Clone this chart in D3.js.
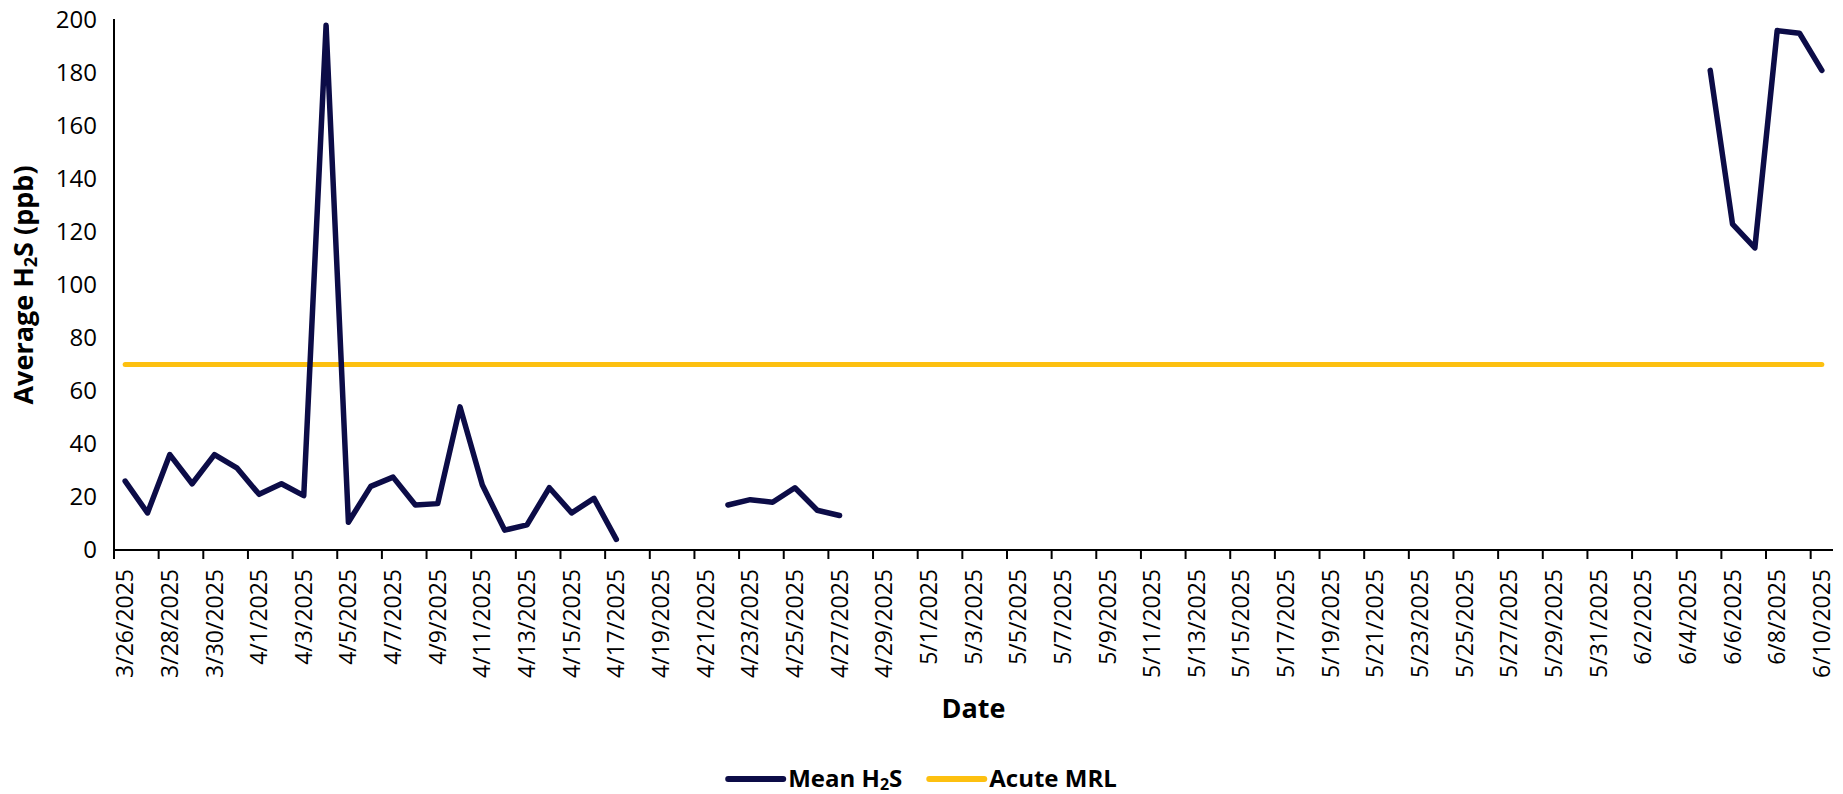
<!DOCTYPE html>
<html>
<head>
<meta charset="utf-8">
<script src="https://cdn.jsdelivr.net/npm/d3@7"></script>
<style>
  html, body { margin: 0; padding: 0; background: #fff; }
  svg { display: block; font-family: "Open Sans", "Noto Sans", sans-serif; }
</style>
</head>
<body>
<svg id="chart" width="1843" height="794"></svg>
<script>
// ---- Data ----
const firstDay = "2025-03-26";
const lastDay = "2025-06-10";
const meanDates = [
  "2025-03-26","2025-03-27","2025-03-28","2025-03-29","2025-03-30","2025-03-31",
  "2025-04-01","2025-04-02","2025-04-03","2025-04-04","2025-04-05","2025-04-06",
  "2025-04-07","2025-04-08","2025-04-09","2025-04-10","2025-04-11","2025-04-12",
  "2025-04-13","2025-04-14","2025-04-15","2025-04-16","2025-04-17",
  "2025-04-22","2025-04-23","2025-04-24","2025-04-25","2025-04-26","2025-04-27",
  "2025-06-05","2025-06-06","2025-06-07","2025-06-08","2025-06-09","2025-06-10"
];
const meanValues = [
  26, 14, 36, 25, 36, 31,
  21, 25, 20.5, 198, 10.5, 24,
  27.5, 17, 17.5, 54, 24.5, 7.5,
  9.5, 23.5, 14, 19.5, 4,
  17, 19, 18, 23.5, 15, 13,
  181, 123, 114, 196, 195, 181
];
const acuteMRL = 70;
const yTicks = [0, 20, 40, 60, 80, 100, 120, 140, 160, 180, 200];
const labelEvery = 2;

(function () {
// ---- Layout ----
const svg = d3.select("#chart");
const mLeft = 114, mRight = 1833, mTop = 20, mBottom = 550;
const navy = "#0C0C47", gold = "#FDC010";

const parse = d3.timeParse("%Y-%m-%d");
const fmt = d3.timeFormat("%-m/%-d/%Y");
const days = d3.timeDay.range(parse(firstDay), d3.timeDay.offset(parse(lastDay), 1)).map(fmt);

const x = d3.scaleBand().domain(days).range([mLeft, mRight]).padding(0);
const y = d3.scaleLinear().domain([0, 200]).range([mBottom, mTop]);
const cx = d => x(d) + x.bandwidth() / 2;

const byDay = new Map(meanDates.map((d, i) => [fmt(parse(d)), meanValues[i]]));
const series = days.map(d => ({ d, v: byDay.has(d) ? byDay.get(d) : null }));

// MRL line
const observed = series.filter(s => s.v != null);
svg.append("line")
  .attr("x1", cx(observed[0].d)).attr("x2", cx(observed[observed.length - 1].d))
  .attr("y1", y(acuteMRL)).attr("y2", y(acuteMRL))
  .attr("stroke", gold).attr("stroke-width", 5).attr("stroke-linecap", "round");

// Mean line
const line = d3.line().defined(s => s.v != null).x(s => cx(s.d)).y(s => y(s.v));
svg.append("path").datum(series)
  .attr("d", line).attr("fill", "none")
  .attr("stroke", navy).attr("stroke-width", 5.5)
  .attr("stroke-linejoin", "round").attr("stroke-linecap", "round");

// Y axis
svg.append("line").attr("x1", mLeft).attr("x2", mLeft).attr("y1", mTop - 1).attr("y2", mBottom + 1)
  .attr("stroke", "#000").attr("stroke-width", 2);
svg.append("g").selectAll("text").data(yTicks).join("text")
  .attr("x", mLeft - 17).attr("y", d => y(d)).attr("dy", "0.35em")
  .attr("text-anchor", "end").attr("font-size", 24).attr("fill", "#000")
  .text(d => d);

// X axis
const xg = svg.append("g");
xg.append("line").attr("x1", mLeft - 1).attr("x2", mRight).attr("y1", mBottom).attr("y2", mBottom)
  .attr("stroke", "#000").attr("stroke-width", 2);
const tickDays = days.filter((d, i) => i % labelEvery === 0);
xg.selectAll(".tk").data(tickDays).join("line").attr("class", "tk")
  .attr("x1", d => x(d)).attr("x2", d => x(d))
  .attr("y1", mBottom).attr("y2", mBottom + 9)
  .attr("stroke", "#000").attr("stroke-width", 2);
xg.selectAll(".lb").data(tickDays).join("text").attr("class", "lb")
  .attr("transform", d => `translate(${cx(d)},${mBottom + 19}) rotate(-90)`)
  .attr("dy", "0.35em").attr("text-anchor", "end")
  .attr("font-size", 23).attr("fill", "#000")
  .text(d => d);

// Axis titles
svg.append("text")
  .attr("x", (mLeft + mRight) / 2).attr("y", 718)
  .attr("text-anchor", "middle").attr("font-size", 27).attr("font-weight", 700)
  .text("Date");

const yt = svg.append("text")
  .attr("transform", `translate(33,${(mTop + mBottom) / 2}) rotate(-90)`)
  .attr("text-anchor", "middle").attr("font-size", 27).attr("font-weight", 700);
yt.append("tspan").text("Average H");
yt.append("tspan").attr("font-size", 18).attr("baseline-shift", "-20%").text("2");
yt.append("tspan").text("S (ppb)");

// Legend
const legendItems = [
  { name: ["Mean H", "2", "S"], color: navy },
  { name: ["Acute MRL"], color: gold }
];
const lg = svg.append("g");
let lx = 0;
legendItems.forEach((it) => {
  const g = lg.append("g").attr("transform", `translate(${lx},0)`);
  g.append("line").attr("x1", 2).attr("x2", 57).attr("y1", 0).attr("y2", 0)
    .attr("stroke", it.color).attr("stroke-width", 6).attr("stroke-linecap", "round");
  const t = g.append("text").attr("x", 62).attr("y", 0).attr("dy", "0.35em")
    .attr("font-size", 24).attr("font-weight", 700).attr("fill", "#000");
  t.append("tspan").text(it.name[0]);
  if (it.name.length > 1) {
    t.append("tspan").attr("font-size", 16).attr("baseline-shift", "-20%").text(it.name[1]);
    t.append("tspan").text(it.name[2]);
  }
  const w = t.node().getComputedTextLength();
  lx += 62 + w + 25;
});
const lw = lx - 25;
lg.attr("transform", `translate(${921.5 - lw / 2},779)`);
})();
</script>
</body>
</html>
